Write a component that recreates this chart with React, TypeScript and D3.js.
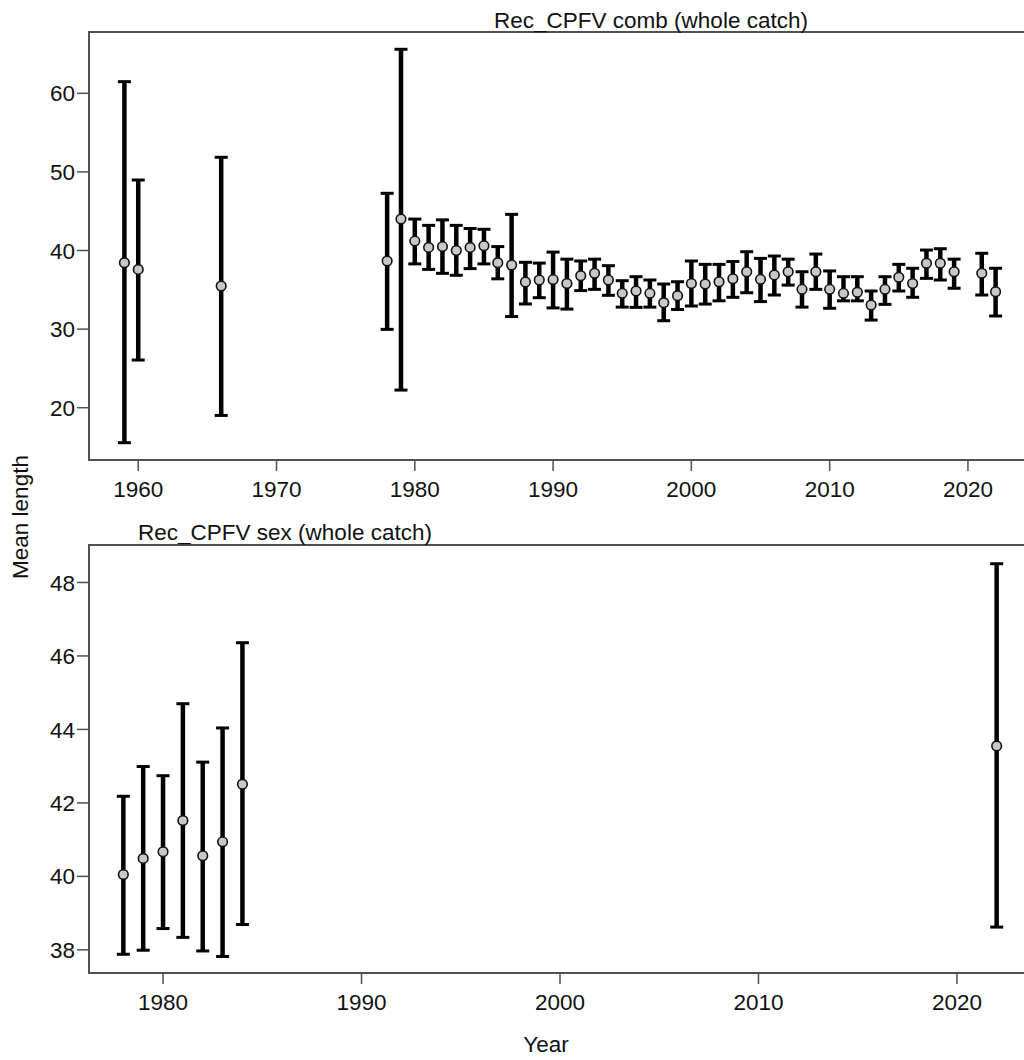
import React from "react";
import * as d3 from "d3";

// ---- Top panel: Rec_CPFV comb (whole catch)
const combYears = [1959, 1960, 1966, 1978, 1979, 1980, 1981, 1982, 1983, 1984, 1985, 1986, 1987, 1988, 1989, 1990, 1991, 1992, 1993, 1994, 1995, 1996, 1997, 1998, 1999, 2000, 2001, 2002, 2003, 2004, 2005, 2006, 2007, 2008, 2009, 2010, 2011, 2012, 2013, 2014, 2015, 2016, 2017, 2018, 2019, 2021, 2022];
const combMean = [38.45, 37.6, 35.48, 38.66, 44.0, 41.2, 40.4, 40.5, 40.0, 40.4, 40.6, 38.45, 38.15, 36.0, 36.25, 36.3, 35.8, 36.8, 37.1, 36.25, 34.55, 34.85, 34.55, 33.36, 34.25, 35.8, 35.74, 36.03, 36.4, 37.3, 36.33, 36.9, 37.3, 35.06, 37.3, 35.06, 34.55, 34.7, 33.07, 35.06, 36.6, 35.8, 38.37, 38.37, 37.3, 37.1, 34.76];
const combLower = [15.55, 26.07, 19.02, 29.97, 22.25, 38.3, 37.6, 37.1, 36.85, 37.7, 38.3, 36.4, 31.6, 33.2, 34.0, 32.7, 32.55, 34.9, 35.06, 34.3, 32.8, 32.77, 32.8, 31.07, 32.5, 32.94, 33.19, 33.6, 34.05, 34.63, 33.5, 34.34, 35.6, 32.8, 35.06, 32.65, 33.6, 33.6, 31.15, 33.15, 34.85, 34.05, 36.46, 36.25, 35.2, 34.34, 31.67];
const combUpper = [61.48, 48.97, 51.86, 47.28, 65.6, 44.0, 43.2, 43.9, 43.2, 42.8, 42.7, 40.5, 44.6, 38.5, 38.4, 39.8, 38.9, 38.67, 38.9, 38.07, 36.16, 36.67, 36.25, 35.74, 36.03, 38.67, 38.24, 38.24, 38.6, 39.85, 39.0, 39.3, 38.9, 37.3, 39.55, 37.4, 36.67, 36.67, 34.85, 36.67, 38.24, 37.74, 40.06, 40.23, 38.9, 39.65, 37.74];
const combYTicks = [20, 30, 40, 50, 60];
const combXTicks = [1960, 1970, 1980, 1990, 2000, 2010, 2020];

// ---- Bottom panel: Rec_CPFV sex (whole catch)
const sexYears = [1978, 1979, 1980, 1981, 1982, 1983, 1984, 2022];
const sexMean = [40.05, 40.49, 40.67, 41.52, 40.56, 40.94, 42.51, 43.55];
const sexLower = [37.88, 37.99, 38.58, 38.34, 37.97, 37.82, 38.69, 38.62];
const sexUpper = [42.18, 42.99, 42.74, 44.70, 43.11, 44.04, 46.36, 48.51];
const sexYTicks = [38, 40, 42, 44, 46, 48];
const sexXTicks = [1980, 1990, 2000, 2010, 2020];

const FONT = "'Liberation Sans', Arial, Helvetica, sans-serif";
const FS = 22.5;
const AXIS_COL = "#505050";
const TEXT_COL = "#111";

type PanelProps = {
  title: string;
  titleX: number;
  titleY: number;
  years: number[];
  mean: number[];
  lower: number[];
  upper: number[];
  xDomain: [number, number];
  yDomain: [number, number];
  xTicks: number[];
  yTicks: number[];
  left: number;
  right: number;
  top: number;
  bottom: number;
};

function Panel(p: PanelProps) {
  const x = d3.scaleLinear().domain(p.xDomain).range([p.left, p.right]);
  const y = d3.scaleLinear().domain(p.yDomain).range([p.bottom, p.top]);
  const capHalf = 6.5;
  return (
    <g>
      <rect x={p.left} y={p.top} width={p.right - p.left} height={p.bottom - p.top} fill="none" stroke={AXIS_COL} strokeWidth={2} />
      <text x={p.titleX} y={p.titleY} fontFamily={FONT} fontSize={FS} textAnchor="middle" fill={TEXT_COL}>
        {p.title}
      </text>
      {p.yTicks.map((t) => (
        <g key={"y" + t}>
          <line x1={p.left - 12} x2={p.left} y1={y(t)} y2={y(t)} stroke={AXIS_COL} strokeWidth={1.5} />
          <text x={p.left - 14} y={y(t)} dy="0.36em" textAnchor="end" fontFamily={FONT} fontSize={FS} fill={TEXT_COL}>
            {t}
          </text>
        </g>
      ))}
      {p.xTicks.map((t) => (
        <g key={"x" + t}>
          <line x1={x(t)} x2={x(t)} y1={p.bottom} y2={p.bottom + 11} stroke={AXIS_COL} strokeWidth={1.5} />
          <text x={x(t)} y={p.bottom + 37} textAnchor="middle" fontFamily={FONT} fontSize={FS} fill={TEXT_COL}>
            {t}
          </text>
        </g>
      ))}
      {p.years.map((yr, i) => (
        <g key={"e" + yr}>
          <line x1={x(yr)} x2={x(yr)} y1={y(p.lower[i])} y2={y(p.upper[i])} stroke="#000" strokeWidth={4.5} />
          <line x1={x(yr) - capHalf} x2={x(yr) + capHalf} y1={y(p.upper[i])} y2={y(p.upper[i])} stroke="#000" strokeWidth={3} />
          <line x1={x(yr) - capHalf} x2={x(yr) + capHalf} y1={y(p.lower[i])} y2={y(p.lower[i])} stroke="#000" strokeWidth={3} />
        </g>
      ))}
      {p.years.map((yr, i) => (
        <circle key={"p" + yr} cx={x(yr)} cy={y(p.mean[i])} r={4.8} fill="#c8c8c8" stroke="#111" strokeWidth={1.6} />
      ))}
    </g>
  );
}

export default function App() {
  return (
    <svg
      width={1024}
      height={1060}
      style={{ position: "absolute", left: 0, top: 0, background: "#fff" }}
    >
      <rect x={0} y={0} width={1024} height={1060} fill="#fff" />
      <Panel
        title="Rec_CPFV comb (whole catch)"
        titleX={651}
        titleY={28}
        years={combYears}
        mean={combMean}
        lower={combLower}
        upper={combUpper}
        xDomain={[1956.44, 2024.56]}
        yDomain={[13.35, 67.8]}
        xTicks={combXTicks}
        yTicks={combYTicks}
        left={89}
        right={1031}
        top={32}
        bottom={460}
      />
      <Panel
        title="Rec_CPFV sex (whole catch)"
        titleX={285}
        titleY={540}
        years={sexYears}
        mean={sexMean}
        lower={sexLower}
        upper={sexUpper}
        xDomain={[1976.27, 2023.73]}
        yDomain={[37.37, 49.02]}
        xTicks={sexXTicks}
        yTicks={sexYTicks}
        left={89}
        right={1031}
        top={545}
        bottom={973}
      />
      <text
        transform="translate(28,517) rotate(-90)"
        textAnchor="middle"
        fontFamily={FONT}
        fontSize={FS}
        fill={TEXT_COL}
      >
        Mean length
      </text>
      <text x={546} y={1052} textAnchor="middle" fontFamily={FONT} fontSize={FS} fill={TEXT_COL}>
        Year
      </text>
    </svg>
  );
}
